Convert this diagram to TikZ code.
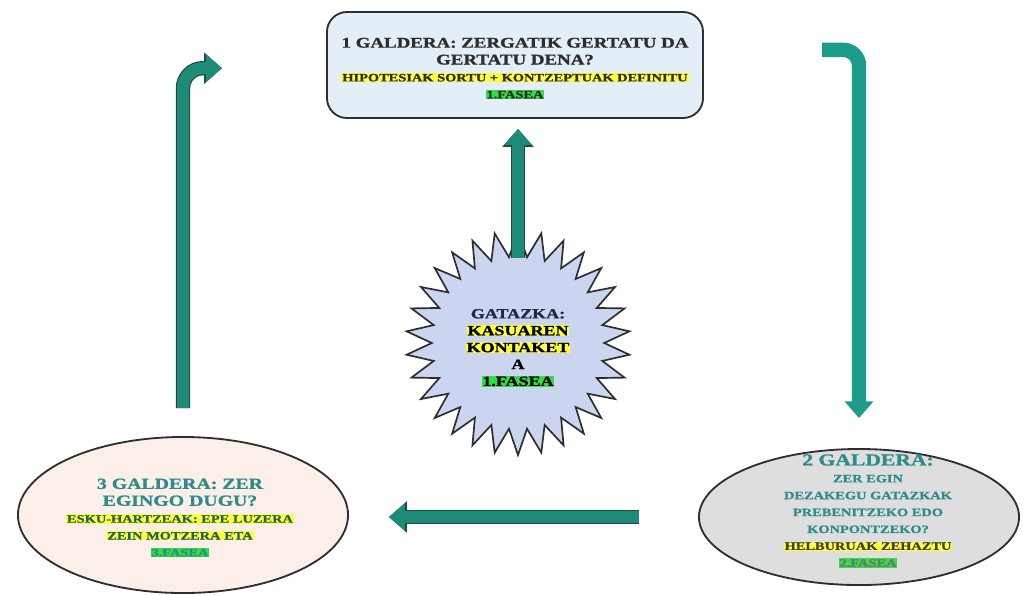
\documentclass[tikz,border=0pt]{standalone}
\usepackage{fontspec}
\setmainfont{Liberation Serif}[FakeStretch=1.28, BoldFeatures={FakeBold=1.2}]
\usetikzlibrary{shapes.geometric, arrows.meta}
\definecolor{boxblue}{HTML}{E4EEF7}
\definecolor{starblue}{HTML}{CBD5EF}
\definecolor{pinkfill}{HTML}{FCEEE8}
\definecolor{grayfill}{HTML}{DEDEDE}
\definecolor{edgegray}{HTML}{2E2E2E}
\definecolor{arrowteal}{HTML}{1E8A78}
\definecolor{arrowdark}{HTML}{1F4A44}
\definecolor{brightteal}{HTML}{1E9C8A}
\definecolor{textteal}{HTML}{2F8C8A}
\definecolor{textnavy}{HTML}{1E2A4C}
\definecolor{markyellow}{HTML}{FFFF3A}
\definecolor{markgreen}{HTML}{33DD44}
\newcommand{\ylw}[1]{{\setlength{\fboxsep}{0.6pt}\colorbox{markyellow}{#1}}}
\newcommand{\grn}[1]{{\setlength{\fboxsep}{0.6pt}\colorbox{markgreen}{#1}}}
\newcommand{\bighead}{\fontsize{10.5}{12.8}\selectfont}
\newcommand{\ovalhead}{\fontsize{11}{13.5}\selectfont}
\newcommand{\smalltxt}{\fontsize{8}{11.3}\selectfont}
\newcommand{\tighttxt}{\fontsize{8}{10.6}\selectfont}
\newcommand{\startxt}{\fontsize{10}{11.4}\selectfont}
\tikzset{
  flow/.style={draw=arrowteal, line width=0.3cm,
    -{Triangle[length=0.4cm, width=0.66cm]},
    preaction={draw=arrowdark, line width=0.36cm,
      -{Triangle[length=0.45cm, width=0.76cm]}}},
  flowplain/.style={draw=brightteal, line width=0.36cm,
    -{Triangle[length=0.42cm, width=0.7cm]}},
  qbox/.style={draw=edgegray, line width=1.3pt, rounded corners=0.5cm,
    fill=boxblue, minimum width=9.4cm, minimum height=2.65cm,
    align=center, font=\bfseries, text=edgegray},
  oval/.style={ellipse, draw=edgegray, line width=1.3pt, inner sep=0pt},
  oval text/.style={align=center, font=\bfseries, text=textteal}
}
\begin{document}
\begin{tikzpicture}[x=0.025cm, y=-0.025cm]
\useasboundingbox (0,0) rectangle (1024,595);

% questions
\node[qbox] (q1) at (515,65) {\bighead\rule{0pt}{12pt}1 GALDERA: ZERGATIK GERTATU DA\\
\bighead GERTATU DENA?\\
\smalltxt\ylw{HIPOTESIAK SORTU + KONTZEPTUAK DEFINITU}\\
\smalltxt\grn{1.FASEA}};
\node[oval, fill=grayfill, minimum width=8cm, minimum height=3.4cm] (q2) at (859,517) {};
\node[oval, fill=pinkfill, minimum width=8.25cm, minimum height=3.9cm] (q3) at (183,515) {};

% conflict
\node[star, star points=30, star point ratio=1.3, minimum size=5.6cm,
  inner sep=0pt, draw=edgegray, line width=1.2pt, fill=starblue] (gatazka) at (518,343) {};
\node[align=center, font=\bfseries, text=black] (gatazkatext) at (518,348)
  {\startxt\color{textnavy}GATAZKA:\\ \startxt\ylw{KASUAREN}\\
  \startxt\ylw{KONTAKET}\\ \startxt A\\ \startxt\grn{1.FASEA}};

% arrows
\draw[flow] (gatazka.center) -- (gatazka.center |- q1.south)
  [shorten <=2.12cm, shorten >=0.25cm];
\draw[flow, rounded corners=0.5cm] (q3.north) |- ([yshift=-0.08cm]q1.west)
  [shorten <=0.7cm, shorten >=2.6cm];
\draw[flowplain, rounded corners=0.4cm] ([yshift=0.38cm]q1.east) -| (q2.north)
  [shorten <=2.95cm, shorten >=0.75cm];
\draw[flow] (q2.west) -- (q2.west -| q3.east) [shorten <=1.48cm, shorten >=1.0cm];

% texts in the ovals
\node[oval text] (q2text) at (868,511) {\fontsize{12}{13}\selectfont 2 GALDERA:\\
\tighttxt ZER EGIN\\ \tighttxt DEZAKEGU GATAZKAK\\ \tighttxt PREBENITZEKO EDO\\
\tighttxt KONPONTZEKO?\\
\tighttxt\ylw{\color{black!75}HELBURUAK ZEHAZTU}\\ \tighttxt\grn{\color{black!55}2.FASEA}};
\node[oval text] (q3text) at (180,518) {\ovalhead 3 GALDERA: ZER\\ \ovalhead EGINGO DUGU?\\
\smalltxt\ylw{\color{textteal!70!black}ESKU-HARTZEAK: EPE LUZERA}\\
\smalltxt\ylw{\color{textteal!70!black}ZEIN MOTZERA ETA}\\ \smalltxt\grn{\color{textteal}3.FASEA}};
\end{tikzpicture}
\end{document}
